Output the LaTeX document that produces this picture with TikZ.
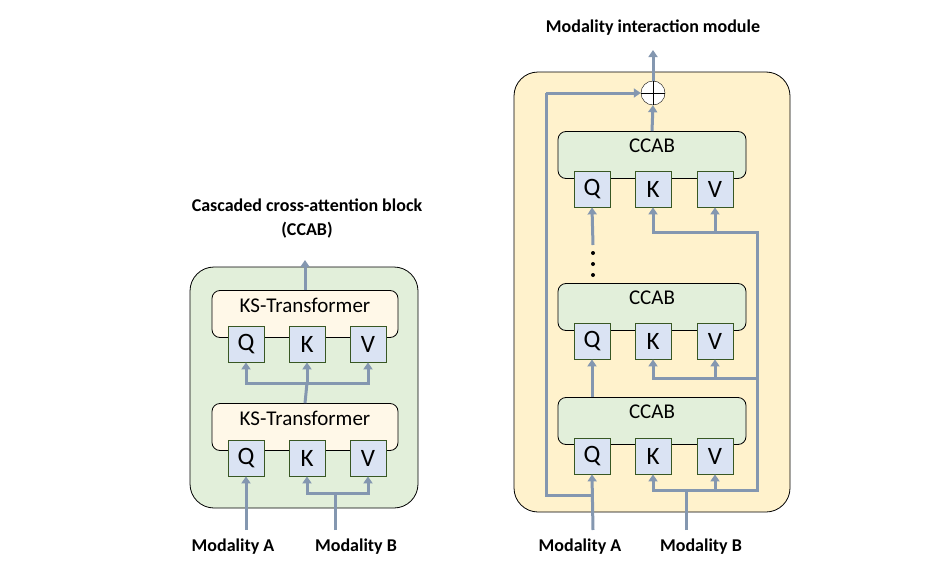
\documentclass[tikz,border=0pt]{standalone}
\usepackage{fontspec}
\setmainfont{Carlito}
\usetikzlibrary{arrows.meta,positioning}
\definecolor{arr}{HTML}{8497B0}
\definecolor{qkvfill}{HTML}{DAE3F3}
\definecolor{qkvline}{HTML}{385723}
\definecolor{greenbg}{HTML}{E2EFDA}
\definecolor{creambg}{HTML}{FFF8E8}
\definecolor{yellowbg}{HTML}{FFF2CC}
\tikzset{
  outer/.style={draw=black, thick, rounded corners=24pt},
  block/.style={draw=black, thick, rounded corners=8pt, minimum height=47pt, text depth=18pt, font=\fontsize{21}{23}\selectfont},
  qkv/.style={draw=qkvline, thick, fill=qkvfill, minimum width=36pt, minimum height=36pt, inner sep=0pt, font=\fontsize{25}{27}\selectfont},
  flow/.style={draw=arr, line width=3pt, -{Triangle[length=7pt,width=9pt]}},
  line/.style={draw=arr, line width=3pt},
  lab/.style={font=\fontsize{18}{24}\selectfont\bfseries, align=center}
}
\begin{document}
\begin{tikzpicture}[x=1pt,y=-1pt]
\useasboundingbox (0,0) rectangle (938,570);
% left panel
\draw[outer, fill=greenbg] (190,267) rectangle (418,508);
\node[lab] (ltitle) at (307,219) {Cascaded cross-attention block\\(CCAB)};
\node[block, fill=creambg, minimum width=186pt] (ks1) at (305,314) {KS-Transformer};
\node[block, fill=creambg, minimum width=186pt] (ks2) at (305,427) {KS-Transformer};
\node[qkv] (q1) at (246,344) {Q};
\node[qkv] (k1) at (307,344) {K};
\node[qkv] (v1) at (368,344) {V};
\node[qkv] (q2) at (246,458) {Q};
\node[qkv] (k2) at (307,458) {K};
\node[qkv] (v2) at (368,458) {V};
\coordinate (lout) at (305,260);
\draw[flow] (ks1.north) -- (lout);
\coordinate (j1) at (307,383);
\draw[line] (ks2.north) -- (j1);
\draw[flow] (j1) -| (q1.south);
\draw[flow] (j1) -| (v1.south);
\draw[flow] (j1) -- (k1.south);
\node[lab] (ma1) at (233,547) {Modality A};
\node[lab] (mb1) at (356,547) {Modality B};
\coordinate (ja) at (246,530);
\coordinate (jb) at (335,530);
\coordinate (jb2) at (335,493);
\draw[flow] (ja) -- (q2.south);
\draw[line] (jb) -- (jb2);
\draw[flow] (jb2) -| (k2.south);
\draw[flow] (jb2) -| (v2.south);
% right panel
\draw[outer, fill=yellowbg] (514,72) rectangle (790,512);
\node[lab] (rtitle) at (653,28) {Modality interaction module};
\node[draw=black, fill=white, circle, minimum size=24pt, inner sep=0pt] (sum) at (653,93) {};
\draw[black] (sum.north) -- (sum.south) (sum.west) -- (sum.east);
\node[block, fill=greenbg, minimum width=188pt] (c1) at (652,155) {CCAB};
\node[block, fill=greenbg, minimum width=188pt] (c2) at (652,307) {CCAB};
\node[block, fill=greenbg, minimum width=188pt] (c3) at (652,421) {CCAB};
\foreach \n/\y in {1/189,2/341,3/456}{
  \node[qkv] (q\n r) at (592,\y) {Q};
  \node[qkv] (k\n r) at (653,\y) {K};
  \node[qkv] (v\n r) at (715,\y) {V};
}
\coordinate (rout) at (653,50);
\draw[flow] (sum.north) -- (rout);
\draw[flow] (c1.north) -- (sum.south);
\foreach \y in {253,264,275}
  \fill (593,\y) circle (2pt);
\coordinate (d1) at (593,245);
\draw[flow] (d1) -- (q1r.south);
\draw[flow] (q2r |- c3.north) -- (q2r.south);
% skip and modality lines
\coordinate (ra) at (593,530);
\coordinate (rja) at (593,495);
\coordinate (rleft) at (546,93);
\coordinate (rb) at (686,530);
\coordinate (rjb) at (686,490);
\coordinate (rright) at (757,490);
\coordinate (r1) at (757,232);
\coordinate (r2) at (757,378);
\draw[flow] (ra) -- (q3r.south);
\draw[line] (rja) -| (rleft);
\draw[flow] (rleft) -- (sum.west);
\draw[line] (rb) -- (rjb);
\draw[flow] (rjb) -| (k3r.south);
\draw[flow] (rjb) -- (rright) |- (r1) -| (k1r.south);
\draw[flow] (v3r.south |- rjb) -- (v3r.south);
\draw[flow] (r1 -| v1r.south) -- (v1r.south);
\draw[flow] (r2) -| (k2r.south);
\draw[flow] (r2 -| v2r.south) -- (v2r.south);
\node[lab] (ma2) at (580,547) {Modality A};
\node[lab] (mb2) at (701,547) {Modality B};
\end{tikzpicture}
\end{document}
